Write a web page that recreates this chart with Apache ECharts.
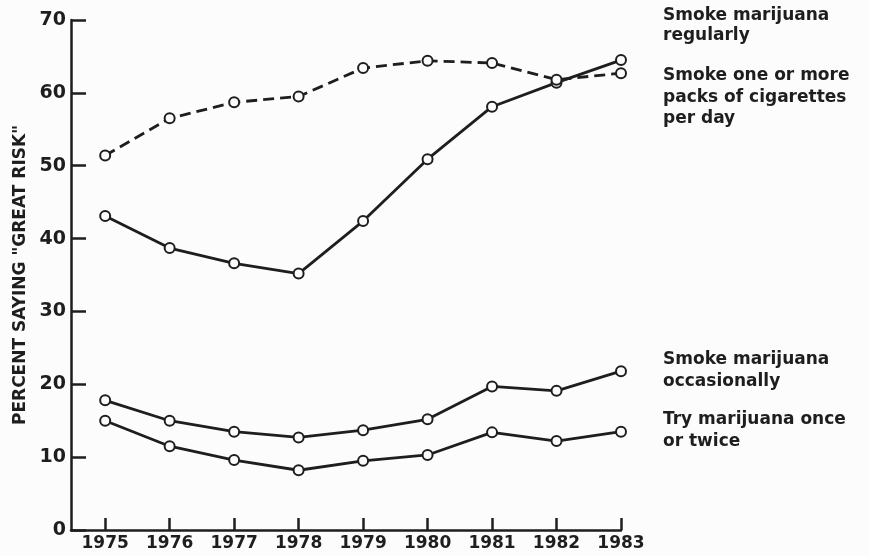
<!DOCTYPE html>
<html>
<head>
<meta charset="utf-8">
<script src="https://cdn.jsdelivr.net/npm/echarts@6/dist/echarts.min.js"></script>
<style>
  html, body { margin: 0; padding: 0; background: #fcfcfc; }
  #main { width: 870px; height: 556px; }
</style>
</head>
<body>
<div id="main"></div>
<script>
const INK = '#1e1e1e';
const FONT = 'DejaVu Sans';

// survey years and values
const years = [1975, 1976, 1977, 1978, 1979, 1980, 1981, 1982, 1983];
const regularly = [43.1, 38.7, 36.6, 35.2, 42.4, 50.9, 58.1, 61.4, 64.5];
const cigarettes = [51.4, 56.5, 58.7, 59.5, 63.4, 64.4, 64.1, 61.8, 62.7];
const occasionally = [17.8, 15.0, 13.5, 12.7, 13.7, 15.2, 19.7, 19.1, 21.8];
const onceTwice = [15.0, 11.5, 9.6, 8.2, 9.5, 10.3, 13.4, 12.2, 13.5];

const pairs = arr => years.map((y, i) => [y, arr[i]]);

function lineSeries(name, arr, dashed) {
    return {
        name: name,
        type: 'line',
        data: pairs(arr),
        symbol: 'circle',
        symbolSize: 10,
        showAllSymbol: true,
        itemStyle: { color: '#fcfcfc', borderColor: INK, borderWidth: 2 },
        lineStyle: {
            color: INK,
            width: 2.8,
            type: dashed ? [11, 6] : 'solid'
        },
        z: 3
    };
}

var myChart = echarts.init(document.getElementById('main'));

const noteFont = 'bold 17px "DejaVu Sans"';

let option = {
    backgroundColor: '#fcfcfc',
    animation: false,
    grid: {
        left: 71, right: 249, top: 20, bottom: 26,
        containLabel: false,
        outerBoundsMode: 'none'
    },
    xAxis: {
        type: 'value',
        min: 1974.47,
        max: 1983,
        splitLine: { show: false },
        axisLine: { lineStyle: { color: INK, width: 2.5 } },
        axisTick: {
            inside: true,
            length: 12,
            customValues: years,
            lineStyle: { color: INK, width: 2.5 }
        },
        axisLabel: {
            customValues: years,
            formatter: v => String(v),
            color: INK,
            fontFamily: FONT,
            fontWeight: 'bold',
            fontSize: 17,
            margin: 5
        }
    },
    yAxis: {
        type: 'value',
        min: 0,
        max: 70,
        interval: 10,
        name: 'PERCENT SAYING "GREAT RISK"',
        nameLocation: 'middle',
        nameRotate: 90,
        nameGap: 41,
        nameTextStyle: { color: INK, fontFamily: FONT, fontWeight: 'bold', fontSize: 17 },
        splitLine: { show: false },
        axisLine: { show: true, lineStyle: { color: INK, width: 2.5 } },
        axisTick: { inside: true, length: 15, lineStyle: { color: INK, width: 2.5 } },
        axisLabel: { color: INK, fontFamily: FONT, fontWeight: 'bold', fontSize: 19, margin: 5 }
    },
    series: [
        lineSeries('Smoke marijuana regularly', regularly, false),
        lineSeries('Smoke one or more packs of cigarettes per day', cigarettes, true),
        lineSeries('Smoke marijuana occasionally', occasionally, false),
        lineSeries('Try marijuana once or twice', onceTwice, false)
    ],
    graphic: [
        { type: 'text', left: 663, top: 6, style: { text: 'Smoke marijuana\nregularly', fill: INK, font: noteFont, lineHeight: 20 } },
        { type: 'text', left: 663, top: 65, style: { text: 'Smoke one or more\npacks of cigarettes\nper day', fill: INK, font: noteFont, lineHeight: 21.5 } },
        { type: 'text', left: 663, top: 349, style: { text: 'Smoke marijuana\noccasionally', fill: INK, font: noteFont, lineHeight: 21.5 } },
        { type: 'text', left: 663, top: 409, style: { text: 'Try marijuana once\nor twice', fill: INK, font: noteFont, lineHeight: 21.5 } }
    ]
};

myChart.setOption(option);
</script>
</body>
</html>
